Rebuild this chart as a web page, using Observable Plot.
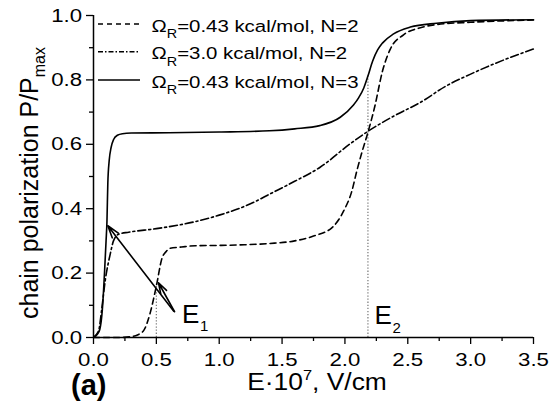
<!DOCTYPE html>
<html><head><meta charset="utf-8">
<script src="https://cdn.jsdelivr.net/npm/d3@7"></script>
<script src="https://cdn.jsdelivr.net/npm/@observablehq/plot@0.6"></script>
<style>body{margin:0;background:#fff;} #chart{position:relative;width:550px;height:409px;}</style>
</head><body><div id="chart"></div>
<script>
// Ω_R = 0.43 kcal/mol, N = 2 (dashed)
const dashX = [0, 0.2, 0.3, 0.35, 0.4, 0.45, 0.5, 0.544, 0.58, 0.61, 0.7, 0.81, 1.0, 1.2, 1.4, 1.6, 1.75, 1.9, 1.99, 2.056, 2.095, 2.135, 2.183, 2.236, 2.3, 2.36, 2.466, 2.6, 2.73, 3.0, 3.5];
const dashY = [0, 0, 0.003, 0.008, 0.022, 0.075, 0.16, 0.245, 0.268, 0.277, 0.281, 0.285, 0.286, 0.288, 0.292, 0.3, 0.315, 0.342, 0.393, 0.456, 0.518, 0.575, 0.637, 0.715, 0.829, 0.895, 0.94, 0.962, 0.972, 0.979, 0.986];
// Ω_R = 3.0 kcal/mol, N = 2 (dash-dot)
const dotdashX = [0, 0.04, 0.067, 0.093, 0.133, 0.159, 0.2, 0.28, 0.5, 0.81, 1.0, 1.27, 1.4, 1.6, 1.8, 2.04, 2.19, 2.4, 2.6, 2.8, 3.0, 3.2, 3.5];
const dotdashY = [0, 0.02, 0.093, 0.176, 0.259, 0.3, 0.321, 0.327, 0.338, 0.36, 0.38, 0.419, 0.445, 0.485, 0.528, 0.601, 0.642, 0.69, 0.73, 0.78, 0.818, 0.852, 0.896];
// Ω_R = 0.43 kcal/mol, N = 3 (solid)
const solidX = [0, 0.03, 0.05, 0.07, 0.09, 0.1, 0.107, 0.114, 0.125, 0.14, 0.16, 0.19, 0.23, 0.3, 0.6, 1.0, 1.4, 1.6, 1.8, 1.963, 2.068, 2.11, 2.15, 2.183, 2.22, 2.26, 2.3, 2.387, 2.52, 2.73, 3.0, 3.5];
const solidY = [0, 0.01, 0.025, 0.085, 0.22, 0.3, 0.36, 0.48, 0.55, 0.59, 0.615, 0.628, 0.633, 0.635, 0.636, 0.638, 0.642, 0.648, 0.658, 0.684, 0.722, 0.745, 0.775, 0.812, 0.858, 0.893, 0.915, 0.943, 0.964, 0.976, 0.984, 0.987];

const seriesNames = ["Ω_R=0.43 kcal/mol, N=2", "Ω_R=3.0 kcal/mol, N=2", "Ω_R=0.43 kcal/mol, N=3"];
const legendMain = ["=0.43 kcal/mol, N=2", "=3.0 kcal/mol, N=2", "=0.43 kcal/mol, N=3"];

const xTicks = [0, 0.5, 1.0, 1.5, 2.0, 2.5, 3.0, 3.5];
const xMinor = [0.25, 0.75, 1.25, 1.75, 2.25, 2.75, 3.25];
const yTicks = [0, 0.2, 0.4, 0.6, 0.8, 1.0];
const yMinor = [0.1, 0.3, 0.5, 0.7, 0.9];

// annotations
const markerE = [0.5, 2.183];
const markerTop = [0.165, 0.812];
const markerName = ["E", "E"];
const markerSub = ["1", "2"];
const markerLabelX = [0.703, 2.235];
const markerLabelY = [0.046, 0.041];
const arrowX1 = [0.637, 0.645];
const arrowY1 = [0.082, 0.08];
const arrowX2 = [0.114, 0.517];
const arrowY2 = [0.347, 0.17];

const rows = (xs, ys) => xs.map((x, i) => ({x, y: ys[i]}));
const markers = markerE.map((x, i) => ({x, top: markerTop[i], lx: markerLabelX[i], ly: markerLabelY[i], name: markerName[i], sub: markerSub[i]}));
const arrows = arrowX1.map((x1, i) => ({x1, y1: arrowY1[i], x2: arrowX2[i], y2: arrowY2[i]}));

const dashes = ["6,4", "8,3,2,3", null];
const lw = 1.6;
const font = "'Liberation Sans', Arial, Helvetica, sans-serif";

const plot = Plot.plot({
  width: 550, height: 409,
  marginLeft: 93, marginRight: 17, marginTop: 15, marginBottom: 72,
  x: {domain: [0, 3.5]},
  y: {domain: [0, 1]},
  style: {fontFamily: font, background: "#fff", color: "#000", overflow: "visible"},
  marks: [
    Plot.ruleX(markers, {x: "x", y1: 0, y2: "top", stroke: "#808080", strokeWidth: 1.3, strokeDasharray: "1.3,1.8"}),
    Plot.line(rows(dashX, dashY), {x: "x", y: "y", curve: "monotone-x", stroke: "#000", strokeWidth: lw, strokeDasharray: dashes[0]}),
    Plot.line(rows(dotdashX, dotdashY), {x: "x", y: "y", curve: "monotone-x", stroke: "#000", strokeWidth: lw, strokeDasharray: dashes[1]}),
    Plot.line(rows(solidX, solidY), {x: "x", y: "y", curve: "monotone-x", stroke: "#000", strokeWidth: lw}),
    Plot.arrow(arrows, {x1: "x1", y1: "y1", x2: "x2", y2: "y2", stroke: "#000", strokeWidth: 1.6, headLength: 12, headAngle: 35}),
    Plot.text(markers, {x: "lx", y: "ly", text: "name", textAnchor: "start", lineAnchor: "bottom", fontSize: 26, fill: "#000"}),
    Plot.text(markers, {x: "lx", y: "ly", text: "sub", textAnchor: "start", lineAnchor: "bottom", fontSize: 15, dx: 18, dy: 8.5, fill: "#000"}),
    Plot.axisX({ticks: xMinor, tickSize: 4, tickFormat: () => "", label: null, strokeWidth: 1.3}),
    Plot.axisX({ticks: xTicks, tickSize: 7, tickPadding: 8, tickFormat: d => d.toFixed(1), label: null, fontSize: 19, strokeWidth: 1.3}),
    Plot.axisY({ticks: yMinor, tickSize: 4, tickFormat: () => "", label: null, strokeWidth: 1.3}),
    Plot.axisY({ticks: yTicks, tickSize: 7, tickPadding: 4.5, tickFormat: d => d.toFixed(1), label: null, fontSize: 19, strokeWidth: 1.3}),
    Plot.ruleY([0], {stroke: "#000", strokeWidth: 1.5}),
    Plot.ruleX([0], {stroke: "#000", strokeWidth: 1.5})
  ]
});
document.getElementById("chart").appendChild(plot);

const svg = d3.select(plot);
// stretch tick labels horizontally
svg.selectAll('g[aria-label$="tick label"] text').each(function() {
  const t = this.getAttribute("transform") || "";
  const x = this.getAttribute("x");
  let extra = "";
  if (x != null) { extra += ` translate(${x},0)`; this.removeAttribute("x"); }
  this.setAttribute("transform", `${t}${extra} scale(1.17,1)`);
});

// y-axis title
const yt = svg.append("text").attr("transform", "translate(38,183) rotate(-90)")
  .attr("text-anchor", "middle").attr("font-family", font).attr("font-size", 25).attr("fill", "#000");
yt.append("tspan").text("chain polarization P/P");
yt.append("tspan").attr("font-size", 16).attr("dy", 7).text("max");

// x-axis title
const xt = svg.append("text").attr("transform", "translate(317,390) scale(1.1,1)")
  .attr("text-anchor", "middle").attr("font-family", font).attr("font-size", 24).attr("fill", "#000");
xt.append("tspan").text("E·10");
xt.append("tspan").attr("font-size", 15).attr("dy", -10).text("7");
xt.append("tspan").attr("dy", 10).text(", V/cm");

// panel label
svg.append("text").attr("x", 71).attr("y", 395).attr("text-anchor", "start").attr("font-family", font).attr("font-size", 29)
  .attr("font-weight", "bold").attr("fill", "#000").text("(a)");

// legend
const legY = [24, 51.7, 80];
const leg = svg.append("g").attr("aria-label", "legend").attr("text-anchor", "start");
seriesNames.forEach((name, i) => {
  const g = leg.append("g");
  g.append("line").attr("x1", 98).attr("x2", 140).attr("y1", legY[i]).attr("y2", legY[i])
    .attr("stroke", "#000").attr("stroke-width", 1.5).attr("stroke-dasharray", dashes[i] ? (i === 0 ? "5,4" : "5,2,1.5,2") : null);
  const t = g.append("text").attr("transform", `translate(151.5,${legY[i] + 7.7}) scale(1.2,1)`)
    .attr("text-anchor", "start").attr("font-family", font).attr("font-size", 17).attr("fill", "#000");
  t.append("tspan").text("Ω");
  t.append("tspan").attr("font-size", 12).attr("dy", 6.5).text("R");
  t.append("tspan").attr("dy", -6.5).text(legendMain[i]);
});
</script>
</body></html>
